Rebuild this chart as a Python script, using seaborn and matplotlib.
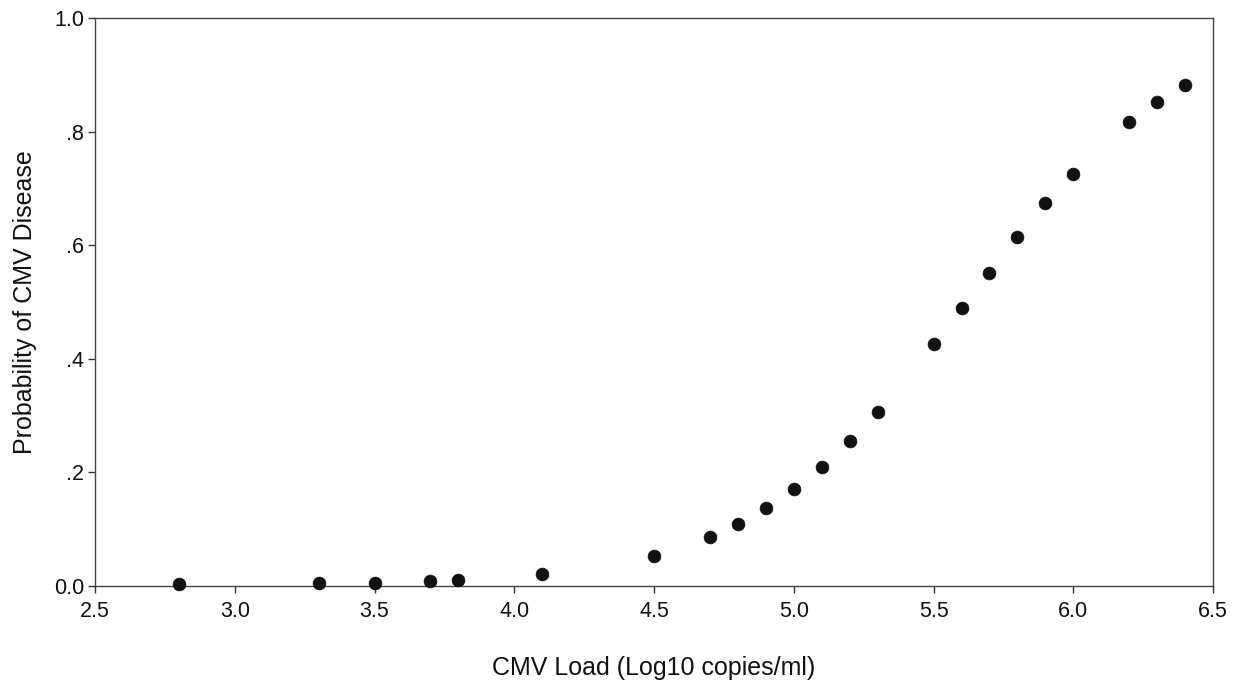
import matplotlib
matplotlib.use("Agg")
import matplotlib.pyplot as plt
import pandas as pd
import seaborn as sns
from matplotlib.ticker import FixedLocator

# CMV load (log10 copies/ml) and estimated probability of CMV disease
cmv_load = [2.8, 3.3, 3.5, 3.7, 3.8, 4.1, 4.5, 4.7, 4.8, 4.9, 5.0, 5.1,
            5.2, 5.3, 5.5, 5.6, 5.7, 5.8, 5.9, 6.0, 6.2, 6.3, 6.4]
prob_disease = [0.003, 0.005, 0.006, 0.008, 0.011, 0.021, 0.053, 0.086,
                0.109, 0.137, 0.171, 0.210, 0.255, 0.307, 0.426, 0.489,
                0.551, 0.615, 0.674, 0.726, 0.817, 0.852, 0.882]

x_ticks = [2.5, 3.0, 3.5, 4.0, 4.5, 5.0, 5.5, 6.0, 6.5]
x_tick_labels = ["2.5", "3.0", "3.5", "4.0", "4.5", "5.0", "5.5", "6.0", "6.5"]
y_ticks = [0.0, 0.2, 0.4, 0.6, 0.8, 1.0]
y_tick_labels = ["0.0", ".2", ".4", ".6", ".8", "1.0"]

df = pd.DataFrame({"load": cmv_load, "prob": prob_disease})

sns.set_style("white")
plt.rcParams["font.family"] = ["Liberation Sans", "DejaVu Sans"]

fig = plt.figure(figsize=(12.42, 6.87), dpi=100)
ax = fig.add_axes([0.0765, 0.147, 0.9002, 0.8268])

sns.scatterplot(data=df, x="load", y="prob", ax=ax, s=85, color="#111111",
                edgecolor="#111111", linewidth=0.5, clip_on=False, zorder=3)

ax.set_xlim(2.5, 6.5)
ax.set_ylim(0.0, 1.0)
ax.xaxis.set_major_locator(FixedLocator(x_ticks))
ax.yaxis.set_major_locator(FixedLocator(y_ticks))
ax.set_xticklabels(x_tick_labels)
ax.set_yticklabels(y_tick_labels)

for side in ["left", "bottom", "top", "right"]:
  ax.spines[side].set_visible(True)
  ax.spines[side].set_color("#444444")
  ax.spines[side].set_linewidth(1.0)

ax.tick_params(axis="both", direction="out", length=5, width=1.0, color="#333333",
               labelsize=15.5, labelcolor="#111111", left=True, bottom=True, pad=3)
ax.tick_params(axis="x", pad=6)

ax.set_xlabel("CMV Load (Log10 copies/ml)", fontsize=18, color="#111111", labelpad=24)
ax.set_ylabel("Probability of CMV Disease", fontsize=18, color="#111111", labelpad=12)

fig.savefig("out.png", dpi=100, facecolor="white")
